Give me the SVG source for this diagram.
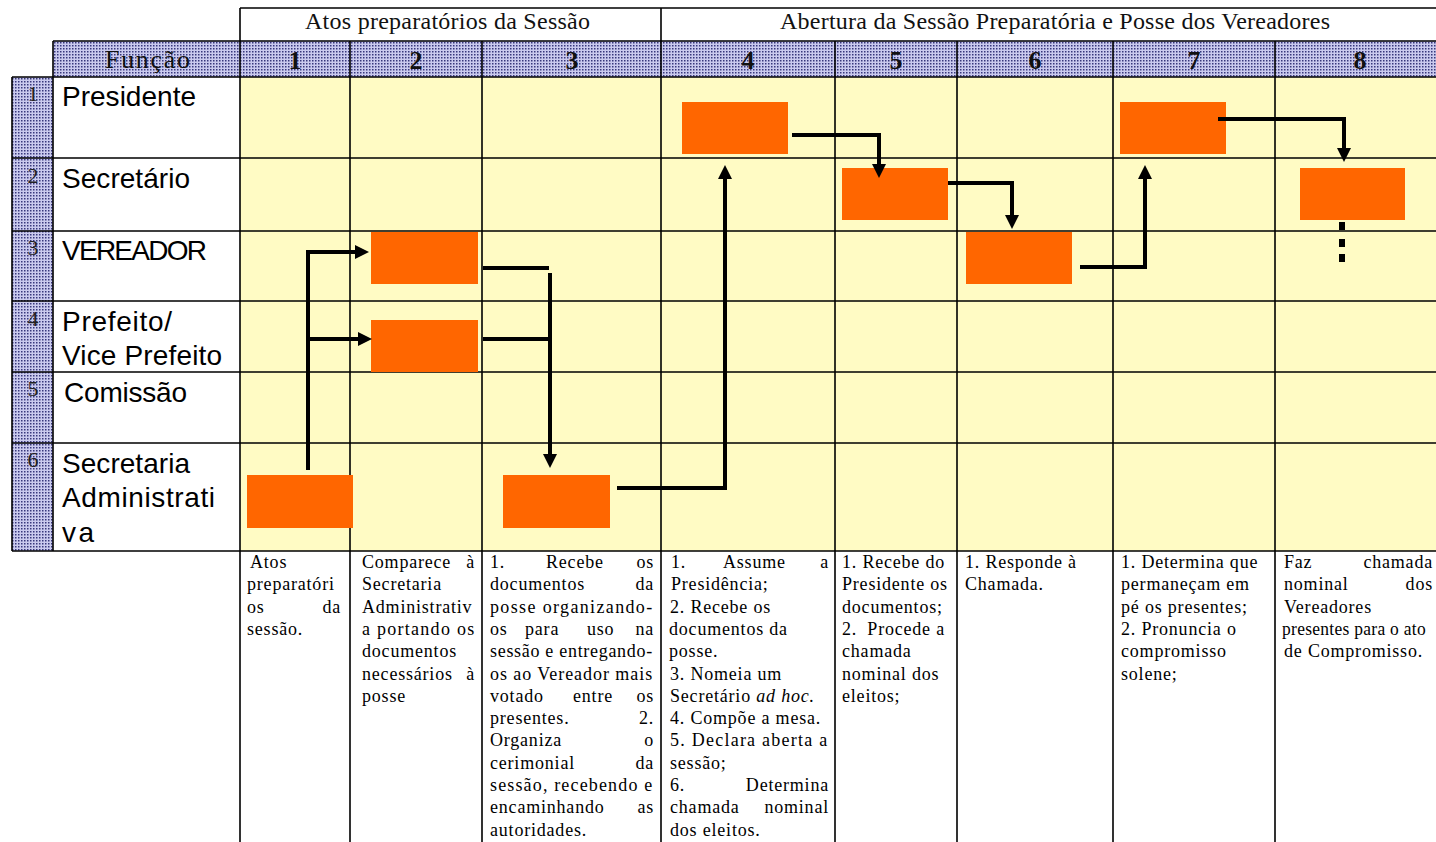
<svg xmlns="http://www.w3.org/2000/svg" width="1436" height="842" viewBox="0 0 1436 842">
<defs>
<pattern id="hatch" width="3" height="3" patternUnits="userSpaceOnUse"><rect width="3" height="3" fill="#CACAEE"/><rect width="1.5" height="1.5" fill="#38387C"/></pattern>
<marker id="ah" markerUnits="userSpaceOnUse" markerWidth="14" markerHeight="14" refX="0" refY="7" orient="auto"><path d="M0,0 L14,7 L0,14 z" fill="#000"/></marker>
</defs>
<style>
.grid{stroke:#000;stroke-width:1.6;fill:none}
.box{fill:#FF6600}
.con{fill:none;stroke:#000;stroke-width:4;stroke-linejoin:miter}
.arr{marker-end:url(#ah)}
.lbl{font-family:"Liberation Sans",Arial,sans-serif;font-size:28px;fill:#000}
.num{font-family:"Liberation Serif","Times New Roman",serif;font-size:22px;fill:#222;text-anchor:middle}
.hn{font-family:"Liberation Serif","Times New Roman",serif;font-size:26px;font-weight:bold;fill:#111;text-anchor:middle}
.ht{font-family:"Liberation Serif","Times New Roman",serif;font-size:24px;fill:#111}
.bt{font-family:"Liberation Serif","Times New Roman",serif;font-size:18px;letter-spacing:0.8px;fill:#000}
.r{text-anchor:end}
</style>
<rect width="1436" height="842" fill="#fff"/>
<g id="table">
<rect x="240" y="77" width="1196" height="474" fill="#FFFBC4"/>
<rect x="53" y="41" width="1383" height="36" fill="url(#hatch)"/>
<rect x="12" y="77" width="41" height="474" fill="url(#hatch)"/>
<path class="grid" d="M240,8 H1436 M240,41 H1436 M53,41 H240 M12,77 H1436 M12,158 H1436 M12,231 H1436 M12,301 H1436 M12,372 H1436 M12,443 H1436 M12,551 H1436"/>
<path class="grid" d="M12,77 V551 M53,41 V551 M240,8 V842 M661,8 V842 M350,41 V842 M482,41 V842 M835,41 V842 M957,41 V842 M1113,41 V842 M1275,41 V842"/>
<text class="ht" x="305" y="29" textLength="285">Atos preparatórios da Sessão</text>
<text class="ht" x="780" y="29" textLength="550">Abertura da Sessão Preparatória e Posse dos Vereadores</text>
<text class="ht" x="105" y="68" textLength="85" style="font-size:26px">Função</text>
<text class="hn" x="295" y="69">1</text>
<text class="hn" x="416" y="69">2</text>
<text class="hn" x="572" y="69">3</text>
<text class="hn" x="748" y="69">4</text>
<text class="hn" x="896" y="69">5</text>
<text class="hn" x="1035" y="69">6</text>
<text class="hn" x="1194" y="69">7</text>
<text class="hn" x="1360" y="69">8</text>
<text class="num" x="33" y="101">1</text>
<text class="num" x="33" y="183">2</text>
<text class="num" x="33" y="255">3</text>
<text class="num" x="33" y="326">4</text>
<text class="num" x="33" y="396">5</text>
<text class="num" x="33" y="467">6</text>
<text class="lbl" x="62" y="106" textLength="134">Presidente</text>
<text class="lbl" x="62" y="188" textLength="128">Secretário</text>
<text class="lbl" x="62" y="260" textLength="145">VEREADOR</text>
<text class="lbl" x="62" y="331" textLength="110">Prefeito/</text>
<text class="lbl" x="62" y="365" textLength="160">Vice Prefeito</text>
<text class="lbl" x="64" y="402" textLength="123">Comissão</text>
<text class="lbl" x="62" y="473" textLength="128">Secretaria</text>
<text class="lbl" x="62" y="507" textLength="153">Administrati</text>
<text class="lbl" x="62" y="542" textLength="32">va</text>
</g>
<g id="n-c1-secadm"><rect class="box" x="247" y="475" width="106" height="53"/></g>
<g id="n-c2-vereador"><rect class="box" x="371" y="232" width="107" height="52"/></g>
<g id="n-c2-prefeito"><rect class="box" x="371" y="320" width="107" height="52"/></g>
<g id="n-c3-secadm"><rect class="box" x="503" y="475" width="107" height="53"/></g>
<g id="n-c4-presidente"><rect class="box" x="682" y="102" width="106" height="52"/></g>
<g id="n-c5-secretario"><rect class="box" x="842" y="168" width="106" height="52"/></g>
<g id="n-c6-vereador"><rect class="box" x="966" y="232" width="106" height="52"/></g>
<g id="n-c7-presidente"><rect class="box" x="1120" y="102" width="106" height="52"/></g>
<g id="n-c8-secretario"><rect class="box" x="1300" y="168" width="105" height="52"/></g>
<g id="connectors">
<path class="con arr" d="M308,470 V252 H355"/>
<path class="con arr" d="M308,339 H358"/>
<path class="con" d="M483,268 H549"/>
<path class="con" d="M483,339 H550"/>
<path class="con arr" d="M550,273 V454"/>
<path class="con arr" d="M617,488 H725 V179"/>
<path class="con arr" d="M792,135 H879 V164"/>
<path class="con arr" d="M948,183 H1012 V215"/>
<path class="con arr" d="M1080,267 H1145 V179"/>
<path class="con arr" d="M1218,119 H1344 V148"/>
<g fill="#000"><rect x="1339" y="222" width="6" height="8"/><rect x="1339" y="239" width="6" height="8"/><rect x="1339" y="254" width="6" height="8"/></g>
</g>
<g id="descriptions">
<text class="bt" x="250" y="568">Atos</text>
<text class="bt" x="247" y="590.3">preparatóri</text>
<text class="bt" x="247" y="612.6">os</text><text class="bt r" x="341" y="612.6">da</text>
<text class="bt" x="247" y="634.9">sessão.</text>

<text class="bt" x="362" y="568">Comparece</text><text class="bt r" x="475" y="568">à</text>
<text class="bt" x="362" y="590.3">Secretaria</text>
<text class="bt" x="362" y="612.6">Administrativ</text>
<text class="bt" x="362" y="634.9" textLength="113">a portando os</text>
<text class="bt" x="362" y="657.2">documentos</text>
<text class="bt" x="362" y="679.5">necessários</text><text class="bt r" x="475" y="679.5">à</text>
<text class="bt" x="362" y="701.8">posse</text>

<text class="bt" x="490" y="568">1.</text><text class="bt" x="546" y="568">Recebe</text><text class="bt r" x="654" y="568">os</text>
<text class="bt" x="490" y="590.3">documentos</text><text class="bt r" x="654" y="590.3">da</text>
<text class="bt" x="490" y="612.6" textLength="163">posse organizando-</text>
<text class="bt" x="490" y="634.9">os</text><text class="bt" x="525" y="634.9">para</text><text class="bt" x="587" y="634.9">uso</text><text class="bt r" x="654" y="634.9">na</text>
<text class="bt" x="490" y="657.2" textLength="163">sessão e entregando-</text>
<text class="bt" x="490" y="679.5" textLength="163">os ao Vereador mais</text>
<text class="bt" x="490" y="701.8">votado</text><text class="bt" x="573" y="701.8">entre</text><text class="bt r" x="654" y="701.8">os</text>
<text class="bt" x="490" y="724.1">presentes.</text><text class="bt r" x="654" y="724.1">2.</text>
<text class="bt" x="490" y="746.4">Organiza</text><text class="bt r" x="654" y="746.4">o</text>
<text class="bt" x="490" y="768.7">cerimonial</text><text class="bt r" x="654" y="768.7">da</text>
<text class="bt" x="490" y="791" textLength="163">sessão, recebendo e</text>
<text class="bt" x="490" y="813.3">encaminhando</text><text class="bt r" x="654" y="813.3">as</text>
<text class="bt" x="490" y="835.6">autoridades.</text>

<text class="bt" x="671" y="568">1.</text><text class="bt" x="723" y="568">Assume</text><text class="bt r" x="829" y="568">a</text>
<text class="bt" x="671" y="590.3">Presidência;</text>
<text class="bt" x="670" y="612.6">2. Recebe os</text>
<text class="bt" x="669" y="634.9">documentos da</text>
<text class="bt" x="669" y="657.2">posse.</text>
<text class="bt" x="670" y="679.5">3. Nomeia um</text>
<text class="bt" x="670" y="701.8">Secretário <tspan font-style="italic">ad hoc.</tspan></text>
<text class="bt" x="670" y="724.1">4. Compõe a mesa.</text>
<text class="bt" x="670" y="746.4" textLength="158">5. Declara aberta a</text>
<text class="bt" x="670" y="768.7">sessão;</text>
<text class="bt" x="670" y="791">6.</text><text class="bt r" x="829" y="791">Determina</text>
<text class="bt" x="670" y="813.3">chamada</text><text class="bt r" x="829" y="813.3">nominal</text>
<text class="bt" x="670" y="835.6">dos eleitos.</text>

<text class="bt" x="842" y="568">1. Recebe do</text>
<text class="bt" x="842" y="590.3">Presidente os</text>
<text class="bt" x="842" y="612.6">documentos;</text>
<text class="bt" x="842" y="634.9">2.</text><text class="bt r" x="945" y="634.9">Procede a</text>
<text class="bt" x="842" y="657.2">chamada</text>
<text class="bt" x="842" y="679.5">nominal dos</text>
<text class="bt" x="842" y="701.8">eleitos;</text>

<text class="bt" x="965" y="568">1. Responde à</text>
<text class="bt" x="965" y="590.3">Chamada.</text>

<text class="bt" x="1121" y="568">1. Determina que</text>
<text class="bt" x="1121" y="590.3">permaneçam em</text>
<text class="bt" x="1121" y="612.6">pé os presentes;</text>
<text class="bt" x="1121" y="634.9">2. Pronuncia o</text>
<text class="bt" x="1121" y="657.2">compromisso</text>
<text class="bt" x="1121" y="679.5">solene;</text>

<text class="bt" x="1284" y="568">Faz</text><text class="bt r" x="1433" y="568">chamada</text>
<text class="bt" x="1284" y="590.3">nominal</text><text class="bt r" x="1433" y="590.3">dos</text>
<text class="bt" x="1284" y="612.6">Vereadores</text>
<text class="bt" x="1282" y="634.9" textLength="144" lengthAdjust="spacingAndGlyphs" style="letter-spacing:0.3px">presentes para o ato</text>
<text class="bt" x="1284" y="657.2">de Compromisso.</text>
</g>
</svg>
